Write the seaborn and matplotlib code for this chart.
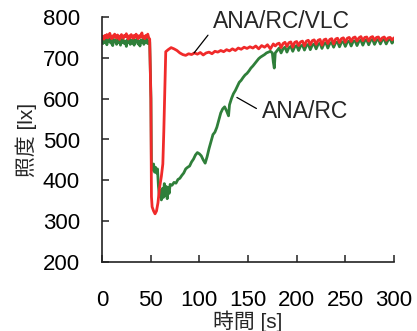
import matplotlib
matplotlib.use("Agg")
import matplotlib.pyplot as plt
import seaborn as sns
import pandas as pd

# ---- data ----
# segment 1: steady state before the event (1 s sampling)
pre_t = list(range(0, 50))
red_pre = [748, 753, 746, 755, 750, 757, 749, 752, 760, 751, 747, 754, 750, 758, 752, 748, 756,
           751, 745, 753, 757, 750, 748, 755, 752, 759, 751, 746, 754, 749, 757, 752, 748, 755,
           750, 758, 753, 747, 754, 750, 756, 761, 749, 752, 747, 755, 751, 758, 749, 746]
green_pre = [742, 735, 745, 738, 746, 732, 744, 740, 747, 736, 743, 730, 745, 739, 744, 733, 746,
             738, 742, 731, 745, 737, 743, 735, 741, 728, 744, 738, 746, 733, 742, 736, 745, 731,
             743, 739, 746, 734, 741, 729, 744, 737, 745, 733, 742, 738, 746, 735, 741, 739]

# segment 2: event and recovery
red_mid_t = [50.2, 50.8, 51.5, 53, 54.5, 56, 57.5, 59, 61, 62.5, 63.5, 64.5, 65.5,
             68, 71, 74, 77, 80, 83, 86, 89, 92, 95, 98, 101, 104, 107, 110, 113,
             116, 119, 122, 125, 128, 131, 134, 137, 140, 143, 146, 149, 152, 155,
             158, 161, 164, 167, 170, 173, 176, 178]
red_mid = [600, 360, 335, 325, 318, 325, 345, 380, 410, 440, 520, 620, 715,
           720, 725, 722, 718, 712, 708, 706, 710, 708, 712, 709, 713, 707, 712, 714, 710,
           716, 714, 718, 715, 720, 717, 722, 718, 724, 721, 726, 723, 727, 724,
           729, 722, 730, 726, 732, 722, 734, 729]
green_mid_t = [50.3, 50.8, 52, 53, 54, 55, 56, 57, 58, 59, 60, 61, 62,
               63, 64, 65, 66, 67, 68, 69, 70, 72, 74, 76, 78, 80, 82, 84, 86, 88, 90, 92,
               94, 96, 98, 100, 102, 104, 106, 108, 110, 112, 114, 116, 118, 120, 122, 124,
               126, 128, 130, 131, 133, 135, 137, 139, 141, 143, 145, 147, 149, 151, 153,
               155, 157, 159, 161, 163, 165, 167, 169, 171, 173, 175, 176, 177, 178]
green_mid = [600, 430, 425, 440, 420, 432, 418, 428, 385, 360, 375, 352, 380,
             358, 392, 362, 385, 355, 382, 368, 390, 388, 395, 393, 402, 405, 412, 418, 428, 432, 435, 445,
             452, 462, 468, 465, 460, 450, 442, 458, 478, 495, 512, 518, 530, 548, 565, 575,
             580, 570, 558, 585, 600, 612, 620, 630, 640, 645, 652, 658, 662, 668, 675,
             680, 686, 692, 698, 702, 705, 708, 712, 714, 716, 712, 690, 675, 712]

# segment 3: late steady state (2 s sampling)
post_t = list(range(180, 301, 2))
red_post = [734, 736, 725, 735, 738, 728, 737, 739, 726, 738, 740, 730, 739, 741, 729, 741,
            743, 732, 742, 744, 733, 743, 745, 731, 744, 746, 735, 745, 747, 734, 746, 748,
            737, 747, 749, 738, 748, 750, 740, 749, 751, 741, 749, 752, 742, 750, 751, 741,
            750, 752, 743, 750, 751, 742, 749, 751, 743, 749, 750, 744, 749]
green_post = [718, 724, 712, 722, 726, 714, 725, 728, 716, 727, 730, 718, 729, 731, 719, 730,
              733, 720, 731, 734, 722, 733, 736, 723, 734, 737, 724, 735, 738, 726, 737, 739,
              727, 738, 740, 728, 739, 741, 729, 740, 742, 730, 741, 743, 731, 742, 744, 732,
              743, 745, 733, 743, 745, 734, 744, 745, 734, 744, 746, 736, 742]

x_ticks = [0, 50, 100, 150, 200, 250, 300]
y_ticks = [200, 300, 400, 500, 600, 700, 800]
label_red = "ANA/RC/VLC"
label_green = "ANA/RC"
x_label = "時間 [s]"
y_label = "照度 [lx]"

# ---- style ----
sns.set_style("ticks")
fam = ["Liberation Sans", "Noto Sans CJK JP", "DejaVu Sans"]
plt.rcParams["font.family"] = fam

RED = "#f02a2a"
GREEN = "#2f7f3a"

fig = plt.figure(figsize=(4.17, 3.31), dpi=100)
ax = fig.add_axes([102 / 417, (331 - 262) / 331, (394 - 102) / 417, (262 - 17) / 331])

df_g = pd.DataFrame({"t": pre_t + green_mid_t + post_t,
                     "v": green_pre + green_mid + green_post})
df_r = pd.DataFrame({"t": pre_t + red_mid_t + post_t,
                     "v": red_pre + red_mid + red_post})
sns.lineplot(data=df_g, x="t", y="v", ax=ax, color=GREEN, lw=2.0, estimator=None, sort=False)
sns.lineplot(data=df_r, x="t", y="v", ax=ax, color=RED, lw=2.0, estimator=None, sort=False)

ax.set_xlim(0, 300)
ax.set_ylim(200, 800)
ax.set_xticks(x_ticks)
ax.set_yticks(y_ticks)
ax.tick_params(axis="both", direction="in", length=5, width=1.1, colors="#222222",
               labelsize=16, labelcolor="black")
ax.tick_params(axis="x", pad=20)
ax.tick_params(axis="y", pad=16)
for s in ["top", "right"]:
    ax.spines[s].set_visible(False)
for s in ["left", "bottom"]:
    ax.spines[s].set_linewidth(1.2)
    ax.spines[s].set_color("#222222")

ax.set_xlabel(x_label, fontsize=15, labelpad=0)
ax.set_ylabel(y_label, fontsize=15, labelpad=4)

# annotations with leader lines
ax.annotate(label_red, xy=(94.6, 712), xytext=(114, 788), fontsize=16.5,
            va="center", ha="left",
            arrowprops=dict(arrowstyle="-", color="black", lw=0.9, relpos=(0, 0.2),
                            shrinkA=2, shrinkB=0))
ax.annotate(label_green, xy=(138.6, 603), xytext=(164.5, 568), fontsize=16.5,
            va="center", ha="left",
            arrowprops=dict(arrowstyle="-", color="black", lw=0.9, relpos=(0, 0.5),
                            shrinkA=2, shrinkB=0))

fig.savefig("out.png", dpi=100)
